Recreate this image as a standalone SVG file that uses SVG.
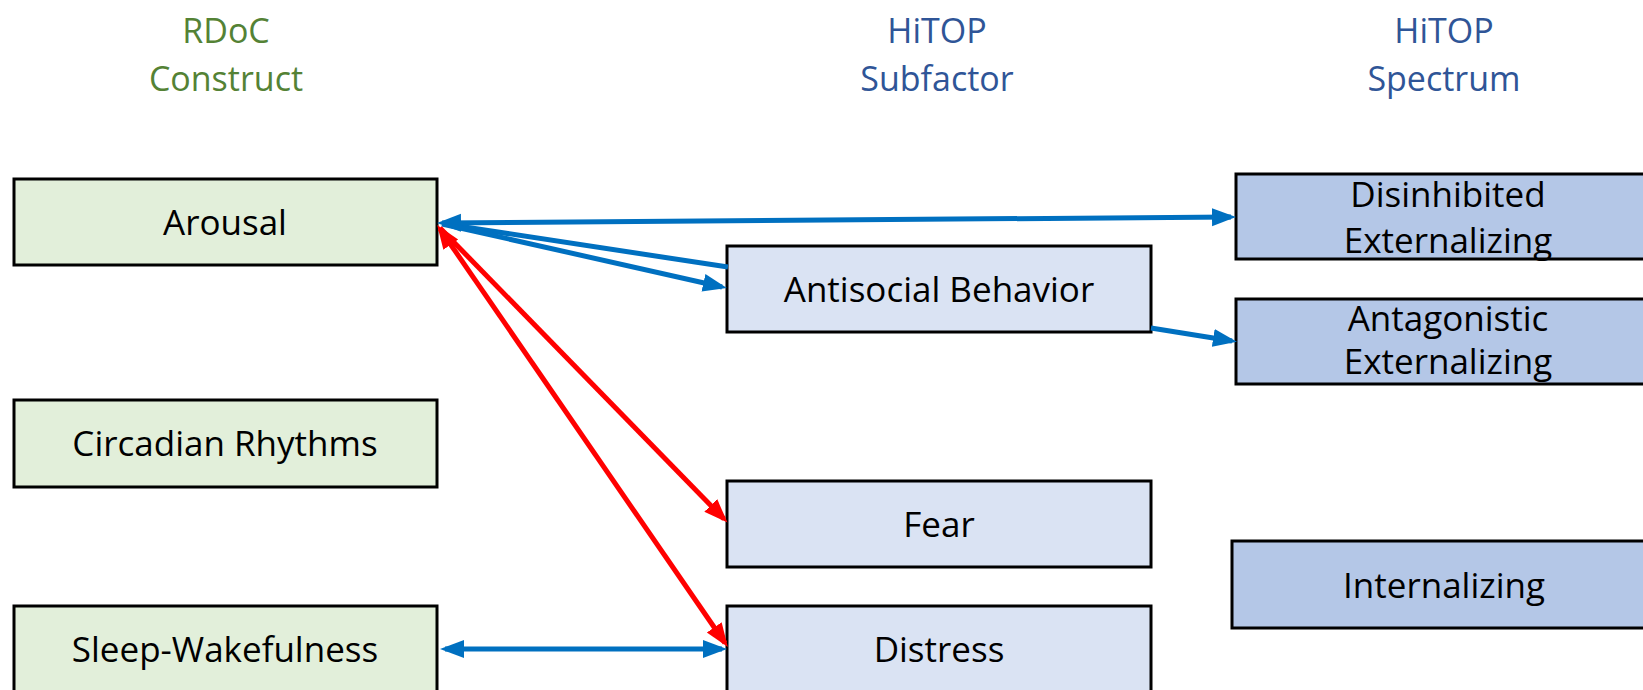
<svg xmlns="http://www.w3.org/2000/svg" width="1643" height="690" viewBox="0 0 1643 690">
<style>
.hdr{font-family:"Open Sans","Noto Sans",sans-serif;font-size:34px;text-anchor:middle}
.g{fill:#548235}
.b{fill:#2F5597}
.lbl{font-family:"Open Sans","Noto Sans",sans-serif;font-size:35px;text-anchor:middle;fill:#000}
.box{stroke:#000;stroke-width:3}
.rd{fill:#E2EFDA}
.sf{fill:#DAE3F3}
.sp{fill:#B4C7E7}
.cb{stroke:#0070C0;stroke-width:5;fill:none}
.cr{stroke:#FF0000;stroke-width:5;fill:none}
</style>
<defs>
<marker id="ab" markerUnits="userSpaceOnUse" markerWidth="24" markerHeight="20" viewBox="0 0 24 20" refX="19" refY="10" orient="auto-start-reverse"><path d="M0,1 L24,10 L0,19 z" fill="#0070C0"/></marker>
<marker id="ar" markerUnits="userSpaceOnUse" markerWidth="24" markerHeight="20" viewBox="0 0 24 20" refX="19" refY="10" orient="auto-start-reverse"><path d="M0,1 L24,10 L0,19 z" fill="#FF0000"/></marker>
</defs>
<rect width="1643" height="690" fill="#fff"/>
<g id="headers">
<text class="hdr g" x="226" y="43">RDoC</text>
<text class="hdr g" x="226" y="91">Construct</text>
<text class="hdr b" x="937" y="43">HiTOP</text>
<text class="hdr b" x="937" y="91">Subfactor</text>
<text class="hdr b" x="1444" y="43">HiTOP</text>
<text class="hdr b" x="1444" y="91">Spectrum</text>
</g>
<g id="n-arousal"><rect class="box rd" x="14" y="179" width="423" height="86"/><text class="lbl" x="225" y="235">Arousal</text></g>
<g id="n-circadian"><rect class="box rd" x="14" y="400" width="423" height="87"/><text class="lbl" x="225" y="456">Circadian Rhythms</text></g>
<g id="n-sleep"><rect class="box rd" x="14" y="606" width="423" height="90"/><text class="lbl" x="225" y="662">Sleep-Wakefulness</text></g>
<g id="n-antisocial"><rect class="box sf" x="727" y="246" width="424" height="86"/><text class="lbl" x="939" y="302">Antisocial Behavior</text></g>
<g id="n-fear"><rect class="box sf" x="727" y="481" width="424" height="86"/><text class="lbl" x="939" y="537">Fear</text></g>
<g id="n-distress"><rect class="box sf" x="727" y="606" width="424" height="90"/><text class="lbl" x="939" y="662">Distress</text></g>
<g id="n-disinhibited"><rect class="box sp" x="1236" y="174" width="424" height="85"/><text class="lbl" x="1448" y="207">Disinhibited</text><text class="lbl" x="1448" y="253">Externalizing</text></g>
<g id="n-antagonistic"><rect class="box sp" x="1236" y="299" width="424" height="85"/><text class="lbl" x="1448" y="331">Antagonistic</text><text class="lbl" x="1448" y="374">Externalizing</text></g>
<g id="n-internalizing"><rect class="box sp" x="1232" y="541" width="424" height="87"/><text class="lbl" x="1444" y="598">Internalizing</text></g>
<g id="connectors">
<line class="cb" x1="728" y1="267" x2="445" y2="224"/>
<line class="cb" x1="442" y1="223" x2="1231" y2="217" marker-start="url(#ab)" marker-end="url(#ab)"/>
<line class="cb" x1="442" y1="224" x2="722" y2="287" marker-end="url(#ab)"/>
<line class="cr" x1="440" y1="228" x2="724" y2="519" marker-end="url(#ar)"/>
<line class="cr" x1="440" y1="229" x2="725" y2="643" marker-start="url(#ar)" marker-end="url(#ar)"/>
<line class="cb" x1="445" y1="649" x2="722" y2="649" marker-start="url(#ab)" marker-end="url(#ab)"/>
<line class="cb" x1="1151" y1="328" x2="1232" y2="341" marker-end="url(#ab)"/>
</g>
</svg>
